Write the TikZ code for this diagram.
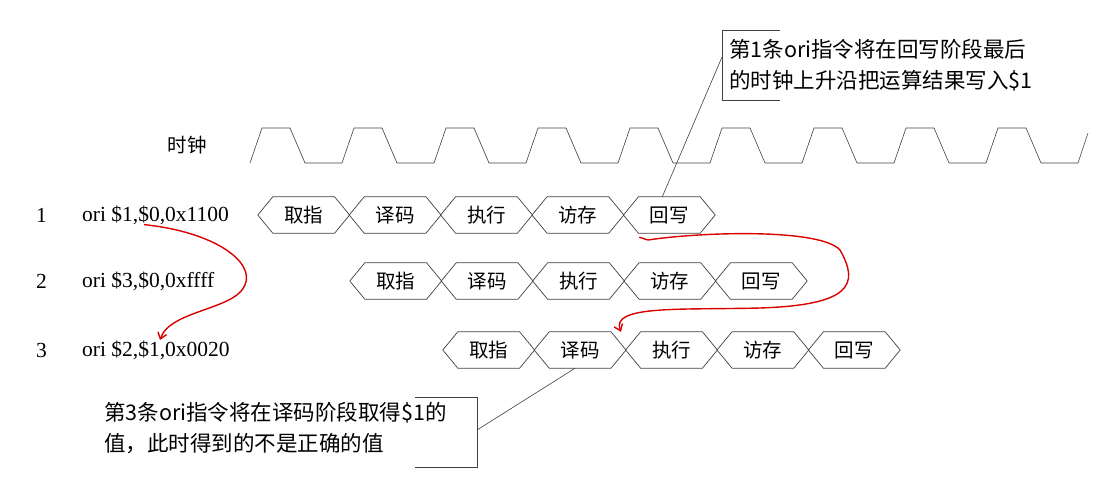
\documentclass[tikz,border=0pt]{standalone}
\usepackage{fontspec}
\setmainfont{Liberation Serif}
\newfontfamily\cjk{Noto Sans CJK SC}
\usetikzlibrary{arrows.meta}
\begin{document}
\begin{tikzpicture}[x=1pt,y=-1pt,
  stage/.style={minimum width=91.4pt,minimum height=36pt,inner sep=0pt,font=\cjk\fontsize{19.5}{21}\selectfont,
    append after command={\pgfextra{\draw[line width=0.7pt,black!75] (\tikzlastnode.west) -- ([xshift=15pt]\tikzlastnode.north west) -- ([xshift=-15pt]\tikzlastnode.north east) -- (\tikzlastnode.east) -- ([xshift=-15pt]\tikzlastnode.south east) -- ([xshift=15pt]\tikzlastnode.south west) -- cycle;}}},
  lbl/.style={anchor=west,font=\fontsize{21.5}{24}\selectfont,inner sep=0pt},
  note/.style={anchor=west,align=left,font=\cjk\fontsize{21.5}{31}\selectfont,inner sep=0pt},
  red/.style={draw=red!85!black,line width=1.4pt,-{Straight Barb[length=6pt,width=9pt]}},
  thin/.style={line width=0.6pt,black!75}]
\useasboundingbox (0,0) rectangle (1112,485);
\node[font=\cjk\fontsize{19.5}{21}\selectfont] (clk) at (187,145) {时钟};
\draw[thin] (250,163)
  \foreach \k in {0,...,8} { -- ++(12,-35) -- ++(28,0) -- ++(15,35) -- ++(37,0) } -- ++(10,-30) coordinate (clkend);
\foreach \r/\y/\x/\t in {1/215/258/{ori \$1,\$0,0x1100},2/281/350/{ori \$3,\$0,0xffff},3/350/443/{ori \$2,\$1,0x0020}}{
  \node[lbl] (n\r) at (36,\y) {\r};
  \node[lbl] (i\r) at (82,\y) {\t};
  \foreach \s/\w [count=\j from 0] in {a/取指,b/译码,c/执行,d/访存,e/回写}
    \node[stage] (s\r\s) at (\x+45.7+91.4*\j,\y) {\w};
}
% top note
\node[note] (top) at (729,65) {第1条ori指令将在回写阶段最后\\的时钟上升沿把运算结果写入\$1};
\draw[thin] (780,30) -- (722,30) -- (722,100) -- (780,100);
\coordinate (tp) at (722,57);
\draw[thin] (tp) -- ([xshift=-7pt]s1e.north);
% bottom note
\node[note] (bot) at (104,428) {第3条ori指令将在译码阶段取得\$1的\\值，此时得到的不是正确的值};
\draw[thin] (415,397) -- (477,397) -- (477,467) -- (415,467);
\coordinate (bp) at (477,430);
\draw[thin] (bp) -- ([xshift=-5pt]s3b.south);
% red arrows
\draw[red] ([xshift=-85pt]i1.south east) .. controls (215,232) and (255,262) .. (245,285) .. controls (235,310) and (170,310) .. (160,340);
\draw[red] ([xshift=-30pt,yshift=-4pt]s1e.south) -- (648,240) .. controls (700,232) and (820,228) .. (840,250) .. controls (860,285) and (850,305) .. (760,308) .. controls (680,310) and (610,305) .. ([xshift=-5pt]s3b.north east);
\end{tikzpicture}
\end{document}
